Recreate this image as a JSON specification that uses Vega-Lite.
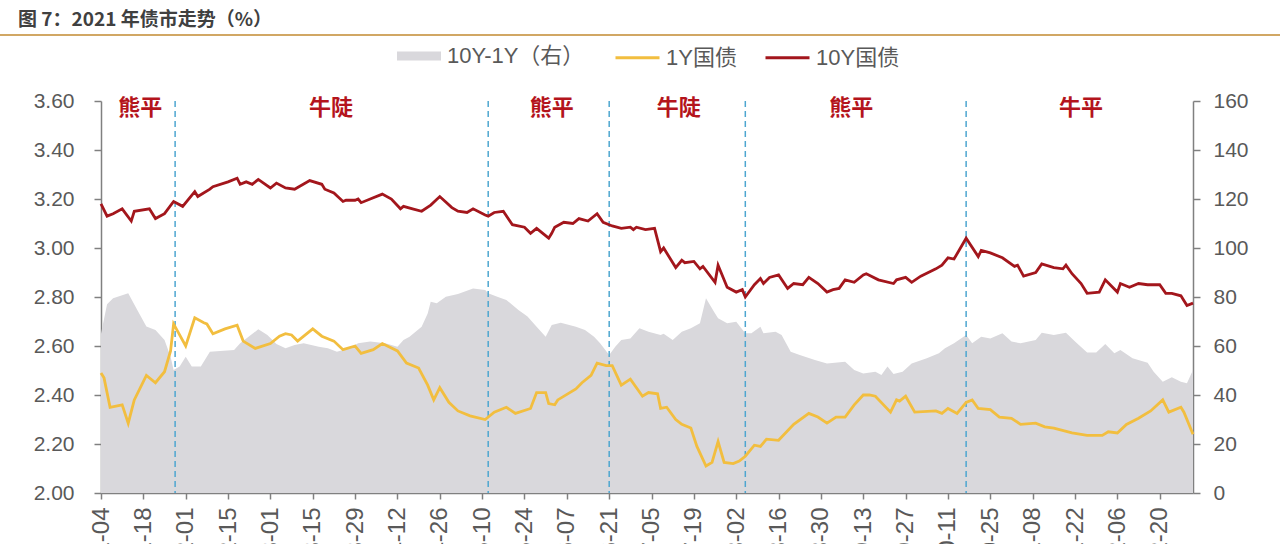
{
  "$schema": "https://vega.github.io/schema/vega-lite/v6.json",
  "autosize": "none",
  "width": 1092,
  "height": 392,
  "padding": {"left": 101, "top": 101, "right": 87, "bottom": 51},
  "background": "white",
  "title": {
    "text": "图 7：2021 年债市走势（%）",
    "anchor": "start",
    "frame": "group",
    "dx": -83,
    "offset": 4,
    "font": "Noto Sans CJK SC",
    "fontSize": 19,
    "fontWeight": "bold",
    "color": "#404040"
  },
  "datasets": {
    "spread": [
      {"date": "2021-01-04", "value": 65}, {"date": "2021-01-06", "value": 77}, {"date": "2021-01-08", "value": 79.5},
      {"date": "2021-01-13", "value": 81.5}, {"date": "2021-01-16", "value": 74.7}, {"date": "2021-01-19", "value": 68},
      {"date": "2021-01-22", "value": 66.5}, {"date": "2021-01-25", "value": 62.4}, {"date": "2021-01-27", "value": 55.6},
      {"date": "2021-01-28", "value": 50.2}, {"date": "2021-01-30", "value": 51.6}, {"date": "2021-02-01", "value": 55.6},
      {"date": "2021-02-03", "value": 51.6}, {"date": "2021-02-06", "value": 51.6}, {"date": "2021-02-09", "value": 57.7},
      {"date": "2021-02-17", "value": 58.4}, {"date": "2021-02-19", "value": 61.1}, {"date": "2021-02-25", "value": 66.8},
      {"date": "2021-02-28", "value": 64.5}, {"date": "2021-03-03", "value": 60.8}, {"date": "2021-03-06", "value": 59.1},
      {"date": "2021-03-09", "value": 60.4}, {"date": "2021-03-12", "value": 61.1}, {"date": "2021-03-17", "value": 59.7},
      {"date": "2021-03-20", "value": 59.1}, {"date": "2021-03-23", "value": 57.7}, {"date": "2021-03-27", "value": 59.1},
      {"date": "2021-03-30", "value": 61.1}, {"date": "2021-04-03", "value": 61.8}, {"date": "2021-04-08", "value": 61.1},
      {"date": "2021-04-12", "value": 59.7}, {"date": "2021-04-14", "value": 62.4}, {"date": "2021-04-16", "value": 63.8},
      {"date": "2021-04-20", "value": 67.9}, {"date": "2021-04-22", "value": 73.3}, {"date": "2021-04-23", "value": 78.1},
      {"date": "2021-04-25", "value": 77.4}, {"date": "2021-04-28", "value": 80.1}, {"date": "2021-05-02", "value": 81.2},
      {"date": "2021-05-07", "value": 83.5}, {"date": "2021-05-11", "value": 82.9}, {"date": "2021-05-12", "value": 81.5},
      {"date": "2021-05-15", "value": 80.1}, {"date": "2021-05-18", "value": 78.8}, {"date": "2021-05-22", "value": 74.7},
      {"date": "2021-05-25", "value": 72}, {"date": "2021-05-28", "value": 67.9}, {"date": "2021-05-31", "value": 63.8},
      {"date": "2021-06-02", "value": 68.6}, {"date": "2021-06-05", "value": 69.5}, {"date": "2021-06-10", "value": 67.9},
      {"date": "2021-06-13", "value": 66.5}, {"date": "2021-06-16", "value": 63.8}, {"date": "2021-06-18", "value": 61.1},
      {"date": "2021-06-21", "value": 56.3}, {"date": "2021-06-23", "value": 59.7}, {"date": "2021-06-25", "value": 62.4},
      {"date": "2021-06-28", "value": 63.1}, {"date": "2021-07-01", "value": 67.2}, {"date": "2021-07-04", "value": 65.8},
      {"date": "2021-07-08", "value": 64.5}, {"date": "2021-07-09", "value": 65}, {"date": "2021-07-12", "value": 62.4},
      {"date": "2021-07-15", "value": 65.8}, {"date": "2021-07-18", "value": 67.2}, {"date": "2021-07-21", "value": 69.3},
      {"date": "2021-07-23", "value": 79.5}, {"date": "2021-07-26", "value": 73.3}, {"date": "2021-07-27", "value": 71.3},
      {"date": "2021-07-30", "value": 69.3}, {"date": "2021-08-02", "value": 69.9}, {"date": "2021-08-05", "value": 65.2},
      {"date": "2021-08-07", "value": 65.2}, {"date": "2021-08-10", "value": 67.9}, {"date": "2021-08-11", "value": 65.2},
      {"date": "2021-08-15", "value": 65.8}, {"date": "2021-08-17", "value": 64.5}, {"date": "2021-08-20", "value": 57.7},
      {"date": "2021-08-23", "value": 56.3}, {"date": "2021-08-28", "value": 54.3}, {"date": "2021-09-01", "value": 52.9},
      {"date": "2021-09-07", "value": 53.6}, {"date": "2021-09-10", "value": 50.2}, {"date": "2021-09-13", "value": 48.8},
      {"date": "2021-09-17", "value": 49.5}, {"date": "2021-09-19", "value": 48.2}, {"date": "2021-09-21", "value": 51.6},
      {"date": "2021-09-23", "value": 48.6}, {"date": "2021-09-26", "value": 49.5}, {"date": "2021-09-29", "value": 52.9},
      {"date": "2021-10-04", "value": 55}, {"date": "2021-10-08", "value": 57}, {"date": "2021-10-10", "value": 59.1},
      {"date": "2021-10-13", "value": 61.1}, {"date": "2021-10-17", "value": 64.5}, {"date": "2021-10-19", "value": 61.1},
      {"date": "2021-10-22", "value": 63.8}, {"date": "2021-10-25", "value": 63.1}, {"date": "2021-10-29", "value": 65.2},
      {"date": "2021-11-01", "value": 61.8}, {"date": "2021-11-04", "value": 61.1}, {"date": "2021-11-09", "value": 62.4},
      {"date": "2021-11-11", "value": 65.4}, {"date": "2021-11-15", "value": 64.5}, {"date": "2021-11-19", "value": 65.4},
      {"date": "2021-11-22", "value": 61.8}, {"date": "2021-11-26", "value": 57.3}, {"date": "2021-11-29", "value": 57.3},
      {"date": "2021-12-02", "value": 60.8}, {"date": "2021-12-05", "value": 57}, {"date": "2021-12-07", "value": 58.4},
      {"date": "2021-12-11", "value": 55}, {"date": "2021-12-16", "value": 53.2}, {"date": "2021-12-18", "value": 49.5},
      {"date": "2021-12-21", "value": 45.4}, {"date": "2021-12-24", "value": 47.2}, {"date": "2021-12-27", "value": 45.4},
      {"date": "2021-12-29", "value": 44.8}, {"date": "2021-12-31", "value": 50.2}
    ],
    "y1": [
      {"date": "2021-01-04", "value": 2.49}, {"date": "2021-01-05", "value": 2.47}, {"date": "2021-01-07", "value": 2.35},
      {"date": "2021-01-11", "value": 2.36}, {"date": "2021-01-13", "value": 2.285}, {"date": "2021-01-15", "value": 2.38},
      {"date": "2021-01-19", "value": 2.48}, {"date": "2021-01-22", "value": 2.45}, {"date": "2021-01-25", "value": 2.495},
      {"date": "2021-01-27", "value": 2.58}, {"date": "2021-01-28", "value": 2.69}, {"date": "2021-02-01", "value": 2.6},
      {"date": "2021-02-04", "value": 2.715}, {"date": "2021-02-07", "value": 2.695}, {"date": "2021-02-08", "value": 2.69},
      {"date": "2021-02-10", "value": 2.65}, {"date": "2021-02-14", "value": 2.67}, {"date": "2021-02-18", "value": 2.685},
      {"date": "2021-02-20", "value": 2.62}, {"date": "2021-02-24", "value": 2.59}, {"date": "2021-03-01", "value": 2.61},
      {"date": "2021-03-04", "value": 2.64}, {"date": "2021-03-06", "value": 2.65}, {"date": "2021-03-08", "value": 2.645},
      {"date": "2021-03-10", "value": 2.62}, {"date": "2021-03-15", "value": 2.67}, {"date": "2021-03-18", "value": 2.64},
      {"date": "2021-03-22", "value": 2.62}, {"date": "2021-03-25", "value": 2.585}, {"date": "2021-03-29", "value": 2.6},
      {"date": "2021-03-31", "value": 2.57}, {"date": "2021-04-04", "value": 2.585}, {"date": "2021-04-07", "value": 2.61},
      {"date": "2021-04-12", "value": 2.58}, {"date": "2021-04-15", "value": 2.53}, {"date": "2021-04-19", "value": 2.51},
      {"date": "2021-04-22", "value": 2.44}, {"date": "2021-04-24", "value": 2.38}, {"date": "2021-04-26", "value": 2.43},
      {"date": "2021-04-29", "value": 2.37}, {"date": "2021-05-02", "value": 2.335}, {"date": "2021-05-06", "value": 2.315},
      {"date": "2021-05-11", "value": 2.3}, {"date": "2021-05-14", "value": 2.33}, {"date": "2021-05-18", "value": 2.35},
      {"date": "2021-05-21", "value": 2.325}, {"date": "2021-05-26", "value": 2.345}, {"date": "2021-05-28", "value": 2.41},
      {"date": "2021-05-31", "value": 2.41}, {"date": "2021-06-01", "value": 2.365}, {"date": "2021-06-03", "value": 2.36},
      {"date": "2021-06-04", "value": 2.38}, {"date": "2021-06-10", "value": 2.425}, {"date": "2021-06-12", "value": 2.45},
      {"date": "2021-06-15", "value": 2.48}, {"date": "2021-06-17", "value": 2.53}, {"date": "2021-06-20", "value": 2.52},
      {"date": "2021-06-22", "value": 2.52}, {"date": "2021-06-25", "value": 2.44}, {"date": "2021-06-28", "value": 2.465},
      {"date": "2021-07-02", "value": 2.395}, {"date": "2021-07-04", "value": 2.41}, {"date": "2021-07-07", "value": 2.405},
      {"date": "2021-07-08", "value": 2.345}, {"date": "2021-07-10", "value": 2.35}, {"date": "2021-07-13", "value": 2.3},
      {"date": "2021-07-15", "value": 2.28}, {"date": "2021-07-18", "value": 2.265}, {"date": "2021-07-20", "value": 2.19},
      {"date": "2021-07-23", "value": 2.11}, {"date": "2021-07-25", "value": 2.125}, {"date": "2021-07-27", "value": 2.21},
      {"date": "2021-07-29", "value": 2.125}, {"date": "2021-08-01", "value": 2.12}, {"date": "2021-08-03", "value": 2.13},
      {"date": "2021-08-05", "value": 2.15}, {"date": "2021-08-08", "value": 2.195}, {"date": "2021-08-10", "value": 2.19},
      {"date": "2021-08-12", "value": 2.22}, {"date": "2021-08-16", "value": 2.215}, {"date": "2021-08-21", "value": 2.28},
      {"date": "2021-08-26", "value": 2.325}, {"date": "2021-08-29", "value": 2.31}, {"date": "2021-09-01", "value": 2.285},
      {"date": "2021-09-04", "value": 2.31}, {"date": "2021-09-07", "value": 2.31}, {"date": "2021-09-10", "value": 2.36},
      {"date": "2021-09-13", "value": 2.4}, {"date": "2021-09-15", "value": 2.4}, {"date": "2021-09-17", "value": 2.395},
      {"date": "2021-09-22", "value": 2.33}, {"date": "2021-09-24", "value": 2.38}, {"date": "2021-09-25", "value": 2.375},
      {"date": "2021-09-27", "value": 2.395}, {"date": "2021-09-30", "value": 2.33}, {"date": "2021-10-07", "value": 2.335},
      {"date": "2021-10-09", "value": 2.325}, {"date": "2021-10-11", "value": 2.345}, {"date": "2021-10-14", "value": 2.325},
      {"date": "2021-10-17", "value": 2.37}, {"date": "2021-10-19", "value": 2.38}, {"date": "2021-10-21", "value": 2.345},
      {"date": "2021-10-25", "value": 2.34}, {"date": "2021-10-28", "value": 2.31}, {"date": "2021-11-01", "value": 2.305},
      {"date": "2021-11-04", "value": 2.28}, {"date": "2021-11-09", "value": 2.285}, {"date": "2021-11-12", "value": 2.27},
      {"date": "2021-11-15", "value": 2.265}, {"date": "2021-11-21", "value": 2.245}, {"date": "2021-11-26", "value": 2.235},
      {"date": "2021-12-01", "value": 2.235}, {"date": "2021-12-03", "value": 2.25}, {"date": "2021-12-06", "value": 2.245},
      {"date": "2021-12-09", "value": 2.28}, {"date": "2021-12-13", "value": 2.305}, {"date": "2021-12-17", "value": 2.335},
      {"date": "2021-12-21", "value": 2.38}, {"date": "2021-12-23", "value": 2.33}, {"date": "2021-12-27", "value": 2.35},
      {"date": "2021-12-28", "value": 2.33}, {"date": "2021-12-31", "value": 2.24}
    ],
    "y10": [
      {"date": "2021-01-04", "value": 3.18}, {"date": "2021-01-06", "value": 3.13}, {"date": "2021-01-08", "value": 3.14},
      {"date": "2021-01-11", "value": 3.16}, {"date": "2021-01-14", "value": 3.11}, {"date": "2021-01-15", "value": 3.15},
      {"date": "2021-01-20", "value": 3.16}, {"date": "2021-01-22", "value": 3.12}, {"date": "2021-01-25", "value": 3.14},
      {"date": "2021-01-28", "value": 3.19}, {"date": "2021-01-31", "value": 3.17}, {"date": "2021-02-04", "value": 3.23},
      {"date": "2021-02-05", "value": 3.21}, {"date": "2021-02-09", "value": 3.24}, {"date": "2021-02-10", "value": 3.25},
      {"date": "2021-02-15", "value": 3.27}, {"date": "2021-02-18", "value": 3.285}, {"date": "2021-02-19", "value": 3.26},
      {"date": "2021-02-21", "value": 3.27}, {"date": "2021-02-23", "value": 3.26}, {"date": "2021-02-25", "value": 3.28},
      {"date": "2021-03-01", "value": 3.245}, {"date": "2021-03-03", "value": 3.265}, {"date": "2021-03-06", "value": 3.245},
      {"date": "2021-03-09", "value": 3.24}, {"date": "2021-03-14", "value": 3.275}, {"date": "2021-03-18", "value": 3.26},
      {"date": "2021-03-19", "value": 3.24}, {"date": "2021-03-22", "value": 3.225}, {"date": "2021-03-25", "value": 3.19},
      {"date": "2021-03-26", "value": 3.195}, {"date": "2021-03-29", "value": 3.195}, {"date": "2021-03-30", "value": 3.2},
      {"date": "2021-03-31", "value": 3.185}, {"date": "2021-04-03", "value": 3.2}, {"date": "2021-04-07", "value": 3.22},
      {"date": "2021-04-10", "value": 3.2}, {"date": "2021-04-13", "value": 3.16}, {"date": "2021-04-14", "value": 3.17},
      {"date": "2021-04-17", "value": 3.16}, {"date": "2021-04-20", "value": 3.15}, {"date": "2021-04-23", "value": 3.175},
      {"date": "2021-04-26", "value": 3.21}, {"date": "2021-04-30", "value": 3.165}, {"date": "2021-05-02", "value": 3.15},
      {"date": "2021-05-05", "value": 3.145}, {"date": "2021-05-07", "value": 3.16}, {"date": "2021-05-11", "value": 3.135},
      {"date": "2021-05-12", "value": 3.13}, {"date": "2021-05-14", "value": 3.145}, {"date": "2021-05-17", "value": 3.15},
      {"date": "2021-05-20", "value": 3.095}, {"date": "2021-05-24", "value": 3.085}, {"date": "2021-05-26", "value": 3.06},
      {"date": "2021-05-28", "value": 3.08}, {"date": "2021-06-01", "value": 3.04}, {"date": "2021-06-02", "value": 3.06},
      {"date": "2021-06-03", "value": 3.085}, {"date": "2021-06-06", "value": 3.105}, {"date": "2021-06-09", "value": 3.1},
      {"date": "2021-06-11", "value": 3.12}, {"date": "2021-06-14", "value": 3.11}, {"date": "2021-06-17", "value": 3.14},
      {"date": "2021-06-19", "value": 3.105}, {"date": "2021-06-22", "value": 3.09}, {"date": "2021-06-25", "value": 3.08},
      {"date": "2021-06-28", "value": 3.085}, {"date": "2021-06-29", "value": 3.075}, {"date": "2021-06-30", "value": 3.085},
      {"date": "2021-07-03", "value": 3.075}, {"date": "2021-07-06", "value": 3.08}, {"date": "2021-07-08", "value": 2.985},
      {"date": "2021-07-09", "value": 3.0}, {"date": "2021-07-13", "value": 2.92}, {"date": "2021-07-15", "value": 2.95},
      {"date": "2021-07-16", "value": 2.94}, {"date": "2021-07-19", "value": 2.945}, {"date": "2021-07-21", "value": 2.915},
      {"date": "2021-07-22", "value": 2.925}, {"date": "2021-07-26", "value": 2.86}, {"date": "2021-07-27", "value": 2.93},
      {"date": "2021-07-30", "value": 2.84}, {"date": "2021-08-02", "value": 2.82}, {"date": "2021-08-04", "value": 2.83},
      {"date": "2021-08-05", "value": 2.8}, {"date": "2021-08-08", "value": 2.85}, {"date": "2021-08-10", "value": 2.875},
      {"date": "2021-08-11", "value": 2.855}, {"date": "2021-08-13", "value": 2.88}, {"date": "2021-08-16", "value": 2.89},
      {"date": "2021-08-19", "value": 2.835}, {"date": "2021-08-21", "value": 2.855}, {"date": "2021-08-24", "value": 2.85},
      {"date": "2021-08-26", "value": 2.88}, {"date": "2021-08-29", "value": 2.855}, {"date": "2021-09-01", "value": 2.82},
      {"date": "2021-09-03", "value": 2.83}, {"date": "2021-09-05", "value": 2.835}, {"date": "2021-09-07", "value": 2.87},
      {"date": "2021-09-10", "value": 2.86}, {"date": "2021-09-13", "value": 2.89}, {"date": "2021-09-14", "value": 2.895},
      {"date": "2021-09-18", "value": 2.87}, {"date": "2021-09-23", "value": 2.855}, {"date": "2021-09-24", "value": 2.87},
      {"date": "2021-09-27", "value": 2.88}, {"date": "2021-09-29", "value": 2.86}, {"date": "2021-10-02", "value": 2.885},
      {"date": "2021-10-07", "value": 2.915}, {"date": "2021-10-09", "value": 2.93}, {"date": "2021-10-11", "value": 2.96},
      {"date": "2021-10-13", "value": 2.955}, {"date": "2021-10-17", "value": 3.04}, {"date": "2021-10-21", "value": 2.965},
      {"date": "2021-10-22", "value": 2.99}, {"date": "2021-10-25", "value": 2.98}, {"date": "2021-10-29", "value": 2.96},
      {"date": "2021-11-02", "value": 2.925}, {"date": "2021-11-03", "value": 2.93}, {"date": "2021-11-05", "value": 2.885},
      {"date": "2021-11-09", "value": 2.9}, {"date": "2021-11-11", "value": 2.935}, {"date": "2021-11-15", "value": 2.92},
      {"date": "2021-11-18", "value": 2.915}, {"date": "2021-11-19", "value": 2.93}, {"date": "2021-11-21", "value": 2.895},
      {"date": "2021-11-24", "value": 2.855}, {"date": "2021-11-26", "value": 2.815}, {"date": "2021-11-30", "value": 2.82},
      {"date": "2021-12-02", "value": 2.87}, {"date": "2021-12-06", "value": 2.82}, {"date": "2021-12-07", "value": 2.855},
      {"date": "2021-12-10", "value": 2.84}, {"date": "2021-12-13", "value": 2.855}, {"date": "2021-12-16", "value": 2.85},
      {"date": "2021-12-20", "value": 2.85}, {"date": "2021-12-22", "value": 2.815}, {"date": "2021-12-24", "value": 2.815},
      {"date": "2021-12-27", "value": 2.805}, {"date": "2021-12-29", "value": 2.765}, {"date": "2021-12-31", "value": 2.775}
    ],
    "phases": [
      {"date": "2021-01-28T12:00:00Z"}, {"date": "2021-05-12"}, {"date": "2021-06-21"},
      {"date": "2021-08-05"}, {"date": "2021-10-17"}
    ],
    "labels": [
      {"date": "2021-01-17", "label": "熊平"}, {"date": "2021-03-21", "label": "牛陡"},
      {"date": "2021-06-02", "label": "熊平"}, {"date": "2021-07-14", "label": "牛陡"},
      {"date": "2021-09-09", "label": "熊平"}, {"date": "2021-11-24", "label": "牛平"}
    ]
  },
  "encoding": {
    "x": {
      "field": "date",
      "type": "temporal",
      "title": null,
      "scale": {
        "type": "utc",
        "nice": false,
        "domain": [
          {"year": 2021, "month": 1, "date": 4, "utc": true},
          {"year": 2021, "month": 12, "date": 31, "utc": true}
        ]
      },
      "axis": {
        "format": "%Y-%m-%d",
        "values": [
          {"year": 2021, "month": 1, "date": 4, "utc": true}, {"year": 2021, "month": 1, "date": 18, "utc": true},
          {"year": 2021, "month": 2, "date": 1, "utc": true}, {"year": 2021, "month": 2, "date": 15, "utc": true},
          {"year": 2021, "month": 3, "date": 1, "utc": true}, {"year": 2021, "month": 3, "date": 15, "utc": true},
          {"year": 2021, "month": 3, "date": 29, "utc": true}, {"year": 2021, "month": 4, "date": 12, "utc": true},
          {"year": 2021, "month": 4, "date": 26, "utc": true}, {"year": 2021, "month": 5, "date": 10, "utc": true},
          {"year": 2021, "month": 5, "date": 24, "utc": true}, {"year": 2021, "month": 6, "date": 7, "utc": true},
          {"year": 2021, "month": 6, "date": 21, "utc": true}, {"year": 2021, "month": 7, "date": 5, "utc": true},
          {"year": 2021, "month": 7, "date": 19, "utc": true}, {"year": 2021, "month": 8, "date": 2, "utc": true},
          {"year": 2021, "month": 8, "date": 16, "utc": true}, {"year": 2021, "month": 8, "date": 30, "utc": true},
          {"year": 2021, "month": 9, "date": 13, "utc": true}, {"year": 2021, "month": 9, "date": 27, "utc": true},
          {"year": 2021, "month": 10, "date": 11, "utc": true}, {"year": 2021, "month": 10, "date": 25, "utc": true},
          {"year": 2021, "month": 11, "date": 8, "utc": true}, {"year": 2021, "month": 11, "date": 22, "utc": true},
          {"year": 2021, "month": 12, "date": 6, "utc": true}, {"year": 2021, "month": 12, "date": 20, "utc": true}
        ]
      }
    }
  },
  "layer": [
    {
      "data": {"name": "spread"},
      "mark": {"type": "area", "color": "#D9D8DC"},
      "encoding": {
        "y": {
          "field": "value",
          "type": "quantitative",
          "title": null,
          "scale": {"domain": [0, 160], "nice": false, "zero": false},
          "axis": {"orient": "right", "values": [0, 20, 40, 60, 80, 100, 120, 140, 160], "format": "d"}
        },
        "fill": {
          "datum": "10Y-1Y（右）",
          "type": "nominal",
          "scale": {"range": ["#D9D8DC"]},
          "legend": {
            "orient": "none",
            "legendX": 296,
            "legendY": -67,
            "title": null,
            "padding": 0,
            "symbolType": "M-1,-0.2H1V0.2H-1Z",
            "symbolSize": 1936,
            "symbolStrokeWidth": 0,
            "labelFontSize": 22,
            "labelOffset": 6,
            "labelLimit": 300
          }
        }
      }
    },
    {
      "layer": [
        {
          "data": {"name": "phases"},
          "mark": {"type": "rule", "stroke": "#4EA6D0", "strokeWidth": 1.5, "strokeDash": [6, 4]}
        },
        {
          "data": {"name": "y1"},
          "mark": {"type": "line", "strokeWidth": 2.8},
          "encoding": {
            "y": {
              "field": "value",
              "type": "quantitative",
              "title": null,
              "scale": {"domain": [2, 3.6], "nice": false, "zero": false},
              "axis": {"orient": "left", "values": [2, 2.2, 2.4, 2.6, 2.8, 3, 3.2, 3.4, 3.6], "format": ".2f"}
            },
            "stroke": {
              "datum": "1Y国债",
              "type": "nominal",
              "scale": {"domain": ["1Y国债", "10Y国债"], "range": ["#F2BE3F", "#A3161C"]},
              "legend": {
                "orient": "none",
                "legendX": 513,
                "legendY": -67,
                "direction": "horizontal",
                "title": null,
                "padding": 0,
                "symbolType": "M-1,0H1",
                "symbolSize": 1936,
                "symbolStrokeWidth": 3,
                "labelFontSize": 22,
                "labelOffset": 5,
                "columnPadding": 22,
                "labelLimit": 300
              }
            }
          }
        },
        {
          "data": {"name": "y10"},
          "mark": {"type": "line", "strokeWidth": 2.8},
          "encoding": {
            "y": {
              "field": "value",
              "type": "quantitative",
              "title": null,
              "scale": {"domain": [2, 3.6], "nice": false, "zero": false},
              "axis": {"orient": "left", "values": [2, 2.2, 2.4, 2.6, 2.8, 3, 3.2, 3.4, 3.6], "format": ".2f"}
            },
            "stroke": {
              "datum": "10Y国债",
              "type": "nominal",
              "scale": {"domain": ["1Y国债", "10Y国债"], "range": ["#F2BE3F", "#A3161C"]}
            }
          }
        },
        {
          "data": {"name": "labels"},
          "mark": {
            "type": "text",
            "font": "Noto Sans CJK SC",
            "fontSize": 22,
            "fontWeight": "bold",
            "color": "#B4141C",
            "align": "center",
            "baseline": "middle"
          },
          "encoding": {
            "y": {"datum": 3.57},
            "text": {"field": "label"}
          }
        }
      ]
    },
    {
      "data": {"values": [{"from": "2020-11-01", "to": "2022-03-01"}]},
      "mark": {"type": "rule", "stroke": "#D1A764", "strokeWidth": 2},
      "encoding": {
        "x": {"field": "from", "type": "temporal"},
        "x2": {"field": "to"},
        "y": {
          "datum": 3.869,
          "type": "quantitative",
          "scale": {"domain": [2, 3.6], "nice": false, "zero": false},
          "axis": null
        }
      }
    }
  ],
  "resolve": {"scale": {"y": "independent"}},
  "config": {
    "view": {"stroke": null},
    "axis": {
      "grid": false,
      "labelFont": "Liberation Sans",
      "labelColor": "#595959",
      "domainColor": "#808080",
      "tickColor": "#808080",
      "domainWidth": 1.5,
      "tickWidth": 1.5
    },
    "axisLeft": {"labelFontSize": 21, "tickSize": 7, "labelPadding": 20},
    "axisRight": {"labelFontSize": 21, "tickSize": 7, "labelPadding": 13},
    "axisBottom": {
      "labelFontSize": 24,
      "tickSize": 6,
      "labelPadding": 8,
      "labelAngle": 270,
      "labelOverlap": false,
      "labelFlush": false
    },
    "legend": {
      "labelFont": "Liberation Sans, Noto Sans CJK SC",
      "labelColor": "#595959"
    }
  }
}
